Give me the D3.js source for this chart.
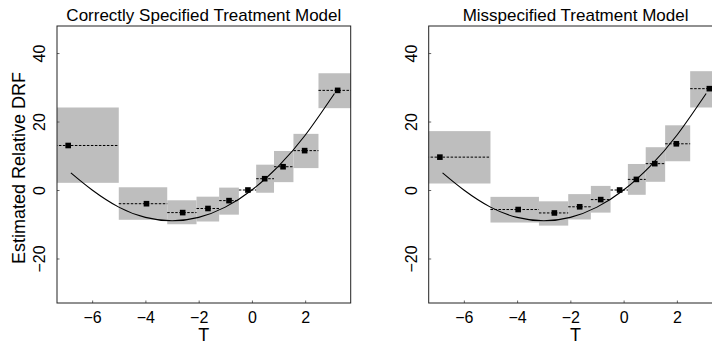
<!DOCTYPE html>
<html>
<head>
<meta charset="utf-8">
<script src="https://cdn.jsdelivr.net/npm/d3@7"></script>
<style>
  body { margin: 0; background: #fff; }
  text { font-family: 'Liberation Sans', Arial, Helvetica, sans-serif; fill: #000; }
</style>
</head>
<body>
<svg id="chart"></svg>
<script>
// bin edges of T (first / last go past the plot edge and get clipped)
const binEdges = [-8, -5.0, -3.18, -2.08, -1.23, -0.49, 0.16, 0.83, 1.56, 2.5, 4.5];
// mean T within each bin
const binMeans = [-6.9, -3.96, -2.6, -1.65, -0.86, -0.15, 0.48, 1.17, 1.98, 3.22];

// correctly specified model: estimate and interval per bin
const leftEst = [13.0, -4.0, -6.6, -5.4, -3.1, 0, 3.3, 6.8, 11.5, 29.1];
const leftLow = [2.1, -8.7, -10.0, -9.2, -7.2, 0, -0.8, 2.3, 6.4, 23.9];
const leftHigh = [24.1, 0.8, -3.0, -1.95, 0.7, 0, 7.4, 11.4, 16.4, 34.1];

// misspecified model
const rightEst = [9.6, -5.7, -6.7, -4.9, -2.8, 0, 3.1, 7.7, 13.5, 29.6];
const rightLow = [1.9, -9.5, -10.4, -8.6, -6.6, 0, -1.4, 2.4, 8.4, 24.1];
const rightHigh = [17.2, -2.0, -3.3, -1.2, 1.2, 0, 7.6, 12.5, 18.9, 34.7];

// true DRF curve
const curveT = [-6.8, -6, -5, -4, -3, -2, -1, 0, 1, 2, 3.1];
const curveY = [5.0, 0, -5, -8, -9, -8, -5, 0, 7, 16, 28.2];

const xTicks = [-6, -4, -2, 0, 2];
const yTicks = [-20, 0, 20, 40];
const titles = ['Correctly Specified Treatment Model', 'Misspecified Treatment Model'];

const width = 712;
const height = 345;
const svg = d3.select('#chart').attr('width', width).attr('height', height);

function drawPanel(idx, off, est, low, high) {
  const x = d3.scaleLinear().domain([-7.32, 3.71]).range([57 + off, 350.7 + off]);
  const y = d3.scaleLinear().domain([-33, 47.9]).range([303, 26]);
  const g = svg.append('g');

  // clip marks to the plot region
  const clipId = `clip${idx}`;
  svg.append('clipPath').attr('id', clipId)
    .append('rect')
    .attr('x', x.range()[0])
    .attr('y', y.range()[1])
    .attr('width', x.range()[1] - x.range()[0])
    .attr('height', y.range()[0] - y.range()[1]);
  const plot = g.append('g').attr('clip-path', `url(#${clipId})`);

  const bins = binMeans.map((m, i) => ({
    t: m, est: est[i], low: low[i], high: high[i], x0: binEdges[i], x1: binEdges[i + 1],
  }));

  // grey interval boxes
  plot.selectAll('rect.ci')
    .data(bins.filter((d) => d.high > d.low))
    .enter()
    .append('rect')
    .attr('class', 'ci')
    .attr('x', (d) => x(d.x0))
    .attr('width', (d) => x(d.x1) - x(d.x0))
    .attr('y', (d) => y(d.high))
    .attr('height', (d) => y(d.low) - y(d.high))
    .style('fill', '#bebebe');

  // true curve
  const line = d3.line()
    .x((d) => x(d[0]))
    .y((d) => y(d[1]))
    .curve(d3.curveNatural);
  plot.append('path')
    .datum(curveT.map((t, i) => [t, curveY[i]]))
    .attr('d', line)
    .style('fill', 'none')
    .style('stroke', '#000')
    .style('stroke-width', 1.1);

  // dashed estimate across each bin
  plot.selectAll('line.est')
    .data(bins)
    .enter()
    .append('line')
    .attr('x1', (d) => x(d.x0))
    .attr('x2', (d) => x(d.x1))
    .attr('y1', (d) => y(d.est))
    .attr('y2', (d) => y(d.est))
    .style('stroke', '#000')
    .style('stroke-width', 1)
    .style('stroke-dasharray', '2.5 1.5');

  // filled squares at bin means
  const s = 5.6;
  plot.selectAll('rect.pt')
    .data(bins)
    .enter()
    .append('rect')
    .attr('x', (d) => x(d.t) - s / 2)
    .attr('y', (d) => y(d.est) - s / 2)
    .attr('width', s)
    .attr('height', s)
    .style('fill', '#000');

  // axes with short inward ticks
  const xAxis = g.append('g')
    .attr('transform', `translate(0,${y.range()[0]})`)
    .call(d3.axisBottom(x).tickValues(xTicks).tickSizeInner(-2.5).tickSizeOuter(0).tickFormat(d3.format('d')));
  xAxis.select('.domain').remove();
  xAxis.selectAll('line').style('stroke', '#666');
  xAxis.selectAll('text')
    .attr('y', 20.3)
    .attr('dy', null)
    .style('font-size', '16px')
    .style('font-family', "'Liberation Sans', Arial, sans-serif")
    .text((d) => (d < 0 ? `\u2212${-d}` : `${d}`));

  const yAxis = g.append('g')
    .attr('transform', `translate(${x.range()[0]},0)`)
    .call(d3.axisLeft(y).tickValues(yTicks).tickSizeInner(-2.5).tickSizeOuter(0));
  yAxis.select('.domain').remove();
  yAxis.selectAll('line').style('stroke', '#666');
  yAxis.selectAll('text')
    .attr('x', null)
    .attr('dy', null)
    .attr('transform', 'translate(-12,0) rotate(-90)')
    .attr('text-anchor', 'middle')
    .style('font-size', '16px')
    .style('font-family', "'Liberation Sans', Arial, sans-serif")
    .text((d) => (d < 0 ? `\u2212${-d}` : `${d}`));

  // frame
  g.append('rect')
    .attr('x', x.range()[0])
    .attr('y', y.range()[1])
    .attr('width', x.range()[1] - x.range()[0])
    .attr('height', y.range()[0] - y.range()[1])
    .style('fill', 'none')
    .style('stroke', '#222')
    .style('stroke-width', 1);

  // title and x label
  const cx = (x.range()[0] + x.range()[1]) / 2;
  g.append('text')
    .attr('x', cx)
    .attr('y', 20.5)
    .attr('text-anchor', 'middle')
    .style('font-size', '17px')
    .text(titles[idx]);
  g.append('text')
    .attr('x', cx)
    .attr('y', 341)
    .attr('text-anchor', 'middle')
    .style('font-size', '18px')
    .text('T');

  if (idx === 0) {
    g.append('text')
      .attr('transform', `translate(25,168) rotate(-90)`)
      .attr('text-anchor', 'middle')
      .style('font-size', '18px')
      .text('Estimated Relative DRF');
  }
}

drawPanel(0, 0, leftEst, leftLow, leftHigh);
drawPanel(1, 371.7, rightEst, rightLow, rightHigh);
</script>
</body>
</html>
